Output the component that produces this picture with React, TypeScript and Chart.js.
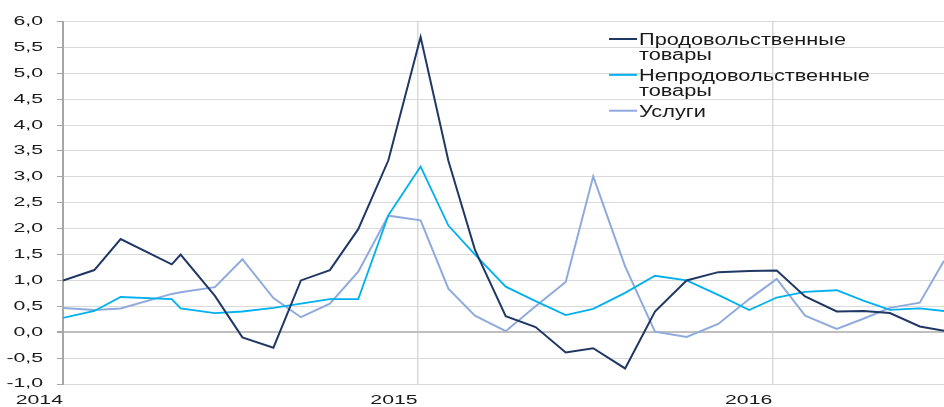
import React, { useEffect, useRef } from 'react';
import { Chart, registerables } from 'chart.js';

Chart.register(...registerables);

// x: months elapsed since January 2014
const MONTHS = [0, 1.06, 1.95, 3.68, 3.98, 5.14, 6.07, 7.12, 8.05, 9.03, 9.99, 11.01, 12.1, 13.04, 13.94, 14.98, 15.99, 17.01, 17.94, 19.02, 20.03, 21.1, 22.17, 23.22, 24.15, 25.11, 26.18, 27.08, 27.98, 28.99, 29.81];
const FOOD = [1.0, 1.2, 1.8, 1.31, 1.5, 0.7, -0.1, -0.3, 1.0, 1.2, 1.99, 3.32, 5.7, 3.31, 1.59, 0.31, 0.1, -0.39, -0.31, -0.7, 0.4, 1.0, 1.16, 1.18, 1.19, 0.69, 0.4, 0.41, 0.37, 0.11, 0.03];
const NON_FOOD = [0.275, 0.41, 0.68, 0.64, 0.46, 0.37, 0.4, 0.47, 0.55, 0.64, 0.64, 2.26, 3.2, 2.06, 1.5, 0.88, 0.6, 0.33, 0.45, 0.76, 1.09, 1.0, 0.72, 0.43, 0.67, 0.78, 0.81, 0.61, 0.43, 0.46, 0.41];
const SERVICES = [0.47, 0.43, 0.46, 0.74, 0.77, 0.87, 1.41, 0.66, 0.29, 0.55, 1.17, 2.25, 2.16, 0.84, 0.32, 0.02, 0.5, 0.97, 3.01, 1.27, 0.01, -0.09, 0.16, 0.64, 1.03, 0.32, 0.065, 0.26, 0.47, 0.57, 1.38];

const SERIES_NAMES = [
  ['Продовольственные', 'товары'],
  ['Непродовольственные', 'товары'],
  ['Услуги'],
];
const SERIES_COLORS = ['#203864', '#00b0f0', '#8faadc'];

const YEAR_TICKS = [0, 12, 24];
const YEAR_LABELS = ['2014', '2015', '2016'];
const X_MAX = 29.81;
const Y_MIN = -1;
const Y_MAX = 6;
const Y_STEP = 0.5;

const W = 944;
const H = 407;
const TICK_STRETCH = 1.7;
const FONT_FAMILY = "'Liberation Sans', Arial, sans-serif";

const legendPlugin = {
  id: 'stretchedLegend',
  afterDraw(chart: any) {
    const ctx = chart.ctx as CanvasRenderingContext2D;
    const orig = (ctx as any).__origFillText || ctx.fillText;
    ctx.save();
    ctx.font = `16px ${FONT_FAMILY}`;
    ctx.textAlign = 'left';
    ctx.textBaseline = 'alphabetic';
    ctx.fillStyle = '#1a1a1a';
    const stretch = 207 / ctx.measureText(SERIES_NAMES[0][0]).width;
    chart.data.datasets.forEach((ds: any, i: number) => {
      const base = 45 + 35.85 * i;
      ctx.strokeStyle = ds.borderColor;
      ctx.lineWidth = 2;
      ctx.beginPath();
      ctx.moveTo(609, base - 6);
      ctx.lineTo(637, base - 6);
      ctx.stroke();
      SERIES_NAMES[i].forEach((line, j) => {
        ctx.save();
        ctx.translate(639, base + j * 15.4);
        ctx.scale(stretch, 1);
        orig.call(ctx, line, 0, 0);
        ctx.restore();
      });
    });
    ctx.restore();
  },
};

export default function App() {
  const ref = useRef<HTMLCanvasElement>(null);

  useEffect(() => {
    const canvas = ref.current!;
    const ctx = canvas.getContext('2d')!;
    const orig = ctx.fillText;
    (ctx as any).__origFillText = orig;
    (ctx as any).fillText = function (text: string, x: number, y: number, maxWidth?: number) {
      this.save();
      this.translate(x, y);
      this.scale(TICK_STRETCH, 1);
      if (maxWidth === undefined || maxWidth === null) orig.call(this, text, 0, 0);
      else orig.call(this, text, 0, 0, maxWidth / TICK_STRETCH);
      this.restore();
    };

    const mk = (vals: number[]) => vals.map((v, i) => ({ x: MONTHS[i], y: v }));

    const chart = new Chart(canvas, {
      type: 'line',
      data: {
        datasets: [
          { label: SERIES_NAMES[0].join(' '), data: mk(FOOD), borderColor: SERIES_COLORS[0], borderWidth: 2 },
          { label: SERIES_NAMES[1].join(' '), data: mk(NON_FOOD), borderColor: SERIES_COLORS[1], borderWidth: 1.8 },
          { label: SERIES_NAMES[2].join(' '), data: mk(SERVICES), borderColor: SERIES_COLORS[2], borderWidth: 2 },
        ],
      },
      options: {
        responsive: false,
        animation: false,
        events: [],
        layout: { padding: { top: 17, right: 0, bottom: 0, left: 0 } },
        plugins: { legend: { display: false }, tooltip: { enabled: false } },
        elements: { point: { radius: 0 }, line: { tension: 0, fill: false } },
        scales: {
          x: {
            type: 'linear',
            min: 0,
            max: X_MAX,
            afterBuildTicks: (s: any) => {
              s.ticks = YEAR_TICKS.map((v) => ({ value: v }));
            },
            afterFit: (s: any) => {
              s.height = 23;
            },
            grid: {
              color: (c: any) => (c.tick && c.tick.value === 0 ? 'rgba(0,0,0,0)' : '#d9d9d9'),
              lineWidth: 1.5,
              drawTicks: false,
            },
            border: { display: false },
            ticks: {
              autoSkip: false,
              maxRotation: 0,
              align: 'end',
              padding: 9,
              color: '#1a1a1a',
              font: { family: FONT_FAMILY, size: 12.5 },
              callback: (v: any) => {
                const k = YEAR_TICKS.indexOf(Number(v));
                return k >= 0 ? YEAR_LABELS[k] : '';
              },
            },
          },
          y: {
            min: Y_MIN,
            max: Y_MAX,
            afterFit: (s: any) => {
              s.width = 63;
            },
            grid: {
              color: (c: any) => (c.tick && c.tick.value === 0 ? '#bfbfbf' : '#d9d9d9'),
              lineWidth: (c: any) => (c.tick && c.tick.value === 0 ? 2 : 1),
              tickLength: 6,
              tickColor: '#a6a6a6',
            },
            border: { display: true, color: '#a6a6a6', width: 2 },
            ticks: {
              stepSize: Y_STEP,
              padding: 14,
              color: '#1a1a1a',
              font: { family: FONT_FAMILY, size: 12.5 },
              callback: (v: any) => Number(v).toFixed(1).replace('.', ','),
            },
          },
        },
      },
      plugins: [legendPlugin],
    } as any);

    return () => {
      chart.destroy();
      (ctx as any).fillText = orig;
    };
  }, []);

  return (
    <div style={{ position: 'fixed', left: 0, top: 0, width: W, height: H, background: '#fff' }}>
      <canvas ref={ref} width={W} height={H} style={{ display: 'block', width: W, height: H }} />
    </div>
  );
}
